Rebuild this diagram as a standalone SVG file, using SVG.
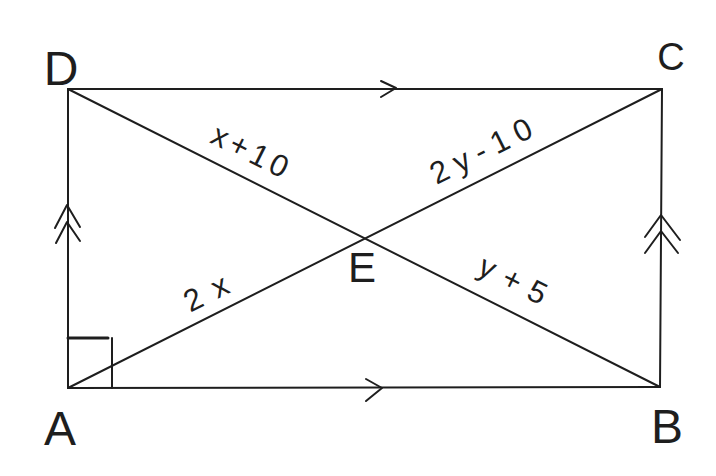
<svg xmlns="http://www.w3.org/2000/svg" width="716" height="476" viewBox="0 0 716 476">
<style>
.ln{stroke:#1e1e1e;stroke-width:2;fill:none;stroke-linecap:round;stroke-linejoin:round}
.pt{font-family:"Liberation Sans",Arial,sans-serif;fill:#1e1e1e;text-anchor:middle}
.lb{font-family:"Liberation Sans",Arial,sans-serif;fill:#1e1e1e;text-anchor:middle;font-size:31px;dominant-baseline:central}
</style>
<rect width="716" height="476" fill="#ffffff"/>
<g id="connectors">
  <g id="sides">
    <line class="ln" x1="68" y1="89" x2="662" y2="89"/>
    <line class="ln" x1="68" y1="388" x2="660" y2="387"/>
    <line class="ln" x1="68" y1="89" x2="68" y2="388"/>
    <line class="ln" x1="662" y1="89" x2="660" y2="387"/>
  </g>
  <g id="diagonals">
    <line class="ln" x1="68" y1="89" x2="660" y2="387"/>
    <line class="ln" x1="68" y1="388" x2="662" y2="89"/>
  </g>
  <g id="marks">
    <polyline class="ln" points="381,81 396,88 381,97"/>
    <polyline class="ln" points="366,379 382,388 366,401"/>
    <polyline class="ln" points="55,228 67,205 80,227"/>
    <polyline class="ln" points="56,243 67,222 80,241"/>
    <polyline class="ln" points="645,237 661,215 680,240"/>
    <polyline class="ln" points="645,253 661,231 678,253"/>
    <line class="ln" x1="68" y1="338" x2="108" y2="338" style="stroke-width:3"/>
    <line class="ln" x1="112" y1="338" x2="112" y2="388"/>
  </g>
</g>
<g id="node-D"><text class="pt" x="61" y="85" font-size="48">D</text></g>
<g id="node-C"><text class="pt" x="671" y="70" font-size="38">C</text></g>
<g id="node-A"><text class="pt" x="60" y="445" font-size="48">A</text></g>
<g id="node-B"><text class="pt" x="667" y="443" font-size="48">B</text></g>
<g id="node-E"><text class="pt" x="362" y="282" font-size="42">E</text></g>
<g id="labels">
  <text class="lb" transform="translate(250,151) rotate(26.7)" textLength="82" lengthAdjust="spacing">x+10</text>
  <text class="lb" transform="translate(481,151) rotate(-26.7)" textLength="110" lengthAdjust="spacing">2y-10</text>
  <text class="lb" transform="translate(206,293) rotate(-26.7)" textLength="46" lengthAdjust="spacing">2x</text>
  <text class="lb" transform="translate(513,280) rotate(26.7)" textLength="72" lengthAdjust="spacing">y+5</text>
</g>
</svg>
